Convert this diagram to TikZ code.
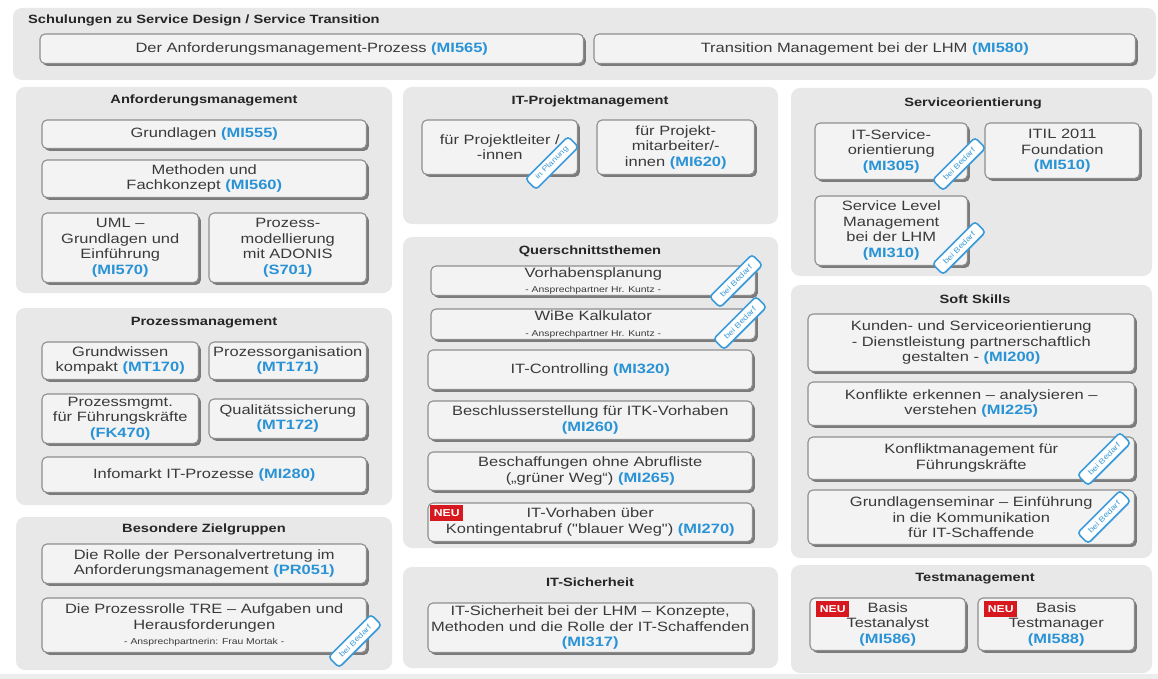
\documentclass[tikz,border=0pt]{standalone}
\usepackage{fontspec}
\setmainfont{Liberation Sans}[FakeStretch=1.22, Ligatures=TeXOff]
\usetikzlibrary{shadows}
\definecolor{panelgray}{HTML}{E8E8E8}
\definecolor{boxfill}{HTML}{F3F3F3}
\definecolor{boxline}{HTML}{8E8E8E}
\definecolor{boxshadow}{HTML}{7A7A7A}
\definecolor{textgray}{HTML}{3A3A3A}
\definecolor{codeblue}{HTML}{2A93D5}
\definecolor{badgeblue}{HTML}{3C9BD8}
\definecolor{neured}{HTML}{D7191F}
\newcommand\code[1]{\textcolor{codeblue}{\bfseries #1}}
\newcommand\smalltxt[1]{{\fontsize{8.5}{10}\selectfont #1}}
% course box given by its outer corners (shadow included); optional extra style
\newcommand\course[7][]{\node[course, #1, minimum width={#5-#3-2.5}, minimum height={#6-#4-2.5}] (#2) at ({(#3+#5-2.5)/2},{(#4+#6-2.5)/2}) {#7};}
% grey group panel given by its corners
\newcommand\panel[5]{\node[panelbox, minimum width={#4-#2}, minimum height={#5-#3}] (#1) at ({(#2+#4)/2},{(#3+#5)/2}) {};}
\tikzset{
  course/.style={draw=boxline, line width=1.1pt, fill=boxfill, rounded corners=5pt,
    general shadow={fill=boxshadow, shadow xshift=2.4pt, shadow yshift=-2.4pt},
    align=center, inner sep=0pt, text=textgray,
    font=\fontsize{13.5}{15.5}\selectfont},
  panelbox/.style={fill=panelgray, rounded corners=9pt, inner sep=0pt, draw=none},
  grouptitle/.style={font=\fontsize{12}{14}\selectfont\bfseries, text=black!85, inner sep=0pt},
  badge/.style={draw=badgeblue, line width=1.6pt, fill=white, rounded corners=3.5pt,
    rotate=45, minimum width=60pt, minimum height=15pt, inner sep=0pt,
    text=badgeblue, font=\fontsize{7.5}{8}\selectfont},
  neutag/.style={fill=neured, text=white, font=\fontsize{10}{10}\selectfont\bfseries,
    minimum width=33pt, minimum height=16pt, inner sep=0pt, anchor=north west}
}
\begin{document}
\begin{tikzpicture}[x=1pt,y=-1pt]
\useasboundingbox (0,0) rectangle (1158,679);
\fill[white] (0,0) rectangle (1158,679);
\fill[panelgray!80] (0,674) rectangle (1158,679);

% panels
\panel{ptop}{13}{8}{1156}{80}
\panel{panf}{16}{87}{392}{293}
\panel{pproz}{16}{308}{392}{505}
\panel{pbes}{16}{517}{392}{670}
\panel{pitpm}{403}{87}{778}{224}
\panel{pquer}{403}{237}{778}{548}
\panel{pits}{403}{567}{778}{668}
\panel{pserv}{791}{88}{1152}{276}
\panel{psoft}{791}{285}{1152}{558}
\panel{ptest}{791}{565}{1152}{673}

% panel titles
\node[grouptitle, anchor=west] (tTop) at (28,20) {Schulungen zu Service Design / Service Transition};
\node[grouptitle] (tAnf) at (204,100) {Anforderungsmanagement};
\node[grouptitle] (tProz) at (204,323) {Prozessmanagement};
\node[grouptitle] (tBes) at (204,529) {Besondere Zielgruppen};
\node[grouptitle] (tItpm) at (590,101) {IT-Projektmanagement};
\node[grouptitle] (tQuer) at (590,251) {Querschnittsthemen};
\node[grouptitle] (tIts) at (590,582) {IT-Sicherheit};
\node[grouptitle] (tServ) at (973,103) {Serviceorientierung};
\node[grouptitle] (tSoft) at (975,299) {Soft Skills};
\node[grouptitle] (tTest) at (975,579) {Testmanagement};

% Service Design / Service Transition
\course{mi565}{40}{34}{586}{66}{Der Anforderungsmanagement-Prozess \code{(MI565)}}
\course{mi580}{594}{34}{1138}{66}{Transition Management bei der LHM \code{(MI580)}}

% Anforderungsmanagement
\course{mi555}{42}{120}{369}{151}{Grundlagen \code{(MI555)}}
\course{mi560}{42}{160}{369}{200}{Methoden und\\Fachkonzept \code{(MI560)}}
\course{mi570}{42}{213}{201}{285}{UML –\\Grundlagen und\\Einführung\\\code{(MI570)}}
\course{s701}{209}{213}{369}{285}{Prozess-\\modellierung\\mit ADONIS\\\code{(S701)}}

% Prozessmanagement
\course{mt170}{42}{342}{201}{382}{Grundwissen\\kompakt \code{(MT170)}}
\course{mt171}{209}{342}{369}{382}{Prozessorganisation\\\code{(MT171)}}
\course{fk470}{42}{394}{201}{446}{Prozessmgmt.\\für Führungskräfte\\\code{(FK470)}}
\course{mt172}{209}{399}{369}{441}{Qualitätssicherung\\\code{(MT172)}}
\course{mi280}{42}{457}{369}{495}{Infomarkt IT-Prozesse \code{(MI280)}}

% Besondere Zielgruppen
\course{pr051}{42}{544}{369}{586}{Die Rolle der Personalvertretung im\\Anforderungsmanagement \code{(PR051)}}
\course{tre}{42}{598}{369}{655}{Die Prozessrolle TRE – Aufgaben und\\Herausforderungen\\\smalltxt{- Ansprechpartnerin: Frau Mortak -}}

% IT-Projektmanagement
\course{pl}{422}{120}{580}{177}{für Projektleiter /\\-innen}
\course{mi620}{597}{120}{757}{177}{für Projekt-\\mitarbeiter/-\\innen \code{(MI620)}}

% Querschnittsthemen
\course{vp}{431}{266}{758}{298}{Vorhabensplanung\\\smalltxt{- Ansprechpartner Hr. Kuntz -}}
\course{wibe}{431}{309}{758}{342}{WiBe Kalkulator\\\smalltxt{- Ansprechpartner Hr. Kuntz -}}
\course{mi320}{428}{350}{755}{392}{IT-Controlling \code{(MI320)}}
\course{mi260}{428}{401}{755}{442}{Beschlusserstellung für ITK-Vorhaben\\\code{(MI260)}}
\course{mi265}{428}{452}{755}{493}{Beschaffungen ohne Abrufliste\\(„grüner Weg“) \code{(MI265)}}
\course{mi270}{428}{503}{755}{544}{IT-Vorhaben über\\Kontingentabruf ("blauer Weg") \code{(MI270)}}

% IT-Sicherheit
\course{mi317}{428}{603}{755}{655}{IT-Sicherheit bei der LHM – Konzepte,\\Methoden und die Rolle der IT-Schaffenden\\\code{(MI317)}}

% Serviceorientierung
\course{mi305}{815}{123}{970}{182}{IT-Service-\\orientierung\\\code{(MI305)}}
\course{mi510}{985}{123}{1142}{181}{ITIL 2011\\Foundation\\\code{(MI510)}}
\course{mi310}{815}{196}{970}{268}{Service Level\\Management\\bei der LHM\\\code{(MI310)}}

% Soft Skills
\course{mi200}{808}{314}{1137}{374}{Kunden- und Serviceorientierung\\- Dienstleistung partnerschaftlich\\gestalten - \code{(MI200)}}
\course{mi225}{808}{382}{1137}{428}{Konflikte erkennen – analysieren –\\verstehen \code{(MI225)}}
\course{kmf}{808}{437}{1137}{482}{Konfliktmanagement für\\Führungskräfte}
\course{gls}{808}{490}{1137}{547}{Grundlagenseminar – Einführung\\in die Kommunikation\\für IT-Schaffende}

% Testmanagement
\course{mi586}{810}{598}{968}{653}{Basis\\Testanalyst\\\code{(MI586)}}
\course{mi588}{978}{598}{1137}{653}{Basis\\Testmanager\\\code{(MI588)}}

% NEU tags
\node[neutag] (neu270) at (430,505) {NEU};
\node[neutag] (neu586) at (816,601) {NEU};
\node[neutag] (neu588) at (984,601) {NEU};

% status badges
\node[badge] (bPl) at (552,163) {in Planung};
\node[badge] (bVp) at (736,281) {bei Bedarf};
\node[badge] (bWibe) at (740,323) {bei Bedarf};
\node[badge] (bTre) at (355,641) {bei Bedarf};
\node[badge] (bMi305) at (959,164) {bei Bedarf};
\node[badge] (bMi310) at (959,248) {bei Bedarf};
\node[badge] (bKmf) at (1104,459) {bei Bedarf};
\node[badge] (bGls) at (1104,517) {bei Bedarf};
\end{tikzpicture}
\end{document}
